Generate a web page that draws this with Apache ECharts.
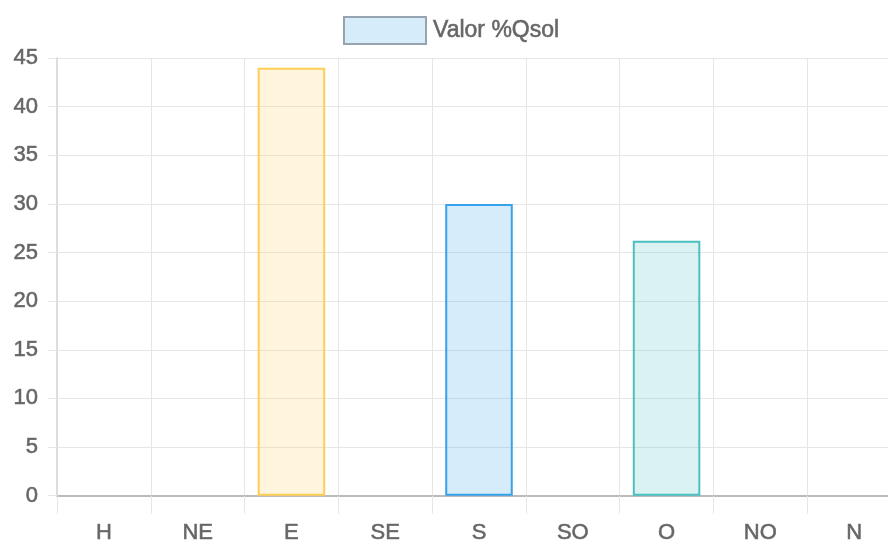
<!DOCTYPE html>
<html>
<head>
<meta charset="utf-8">
<script src="https://cdn.jsdelivr.net/npm/echarts@6/dist/echarts.min.js"></script>
<style>
  html, body { margin: 0; padding: 0; background: #fff; overflow: hidden; }
  #main { width: 901px; height: 544px; }
</style>
</head>
<body>
<div id="main"></div>
<script>
// datos del gráfico
var categorias = ['H', 'NE', 'E', 'SE', 'S', 'SO', 'O', 'NO', 'N'];
var valores = [0, 0, 44, 0, 30, 0, 26.2, 0, 0];
var nombreSerie = 'Valor %Qsol';

// estilos por barra
var rellenos = ['rgba(54,162,235,0.2)', 'rgba(54,162,235,0.2)', 'rgba(255,206,86,0.2)', 'rgba(54,162,235,0.2)',
    'rgba(54,162,235,0.2)', 'rgba(54,162,235,0.2)', 'rgba(75,192,192,0.2)', 'rgba(54,162,235,0.2)', 'rgba(54,162,235,0.2)'];
var bordes = ['#36a2eb', '#36a2eb', '#ffce56', '#36a2eb', '#36a2eb', '#36a2eb', '#4bc0c0', '#36a2eb', '#36a2eb'];

// las barras en cero no dibujan borde
var datos = valores.map(function (v, i) {
    return { value: v, itemStyle: { color: rellenos[i], borderColor: bordes[i], borderWidth: v ? 2 : 0 } };
});

var fuente = 'Liberation Sans, Helvetica Neue, Helvetica, Arial, sans-serif';
var texto = {
    fontSize: 22,
    color: '#666',
    fontFamily: fuente,
    textBorderColor: '#777',
    textBorderWidth: 0.6
};

var myChart = echarts.init(document.getElementById('main'));

var option = {
    animation: false,
    textStyle: { fontFamily: fuente },
    legend: {
        top: 11,
        left: 338,
        itemWidth: 82,
        itemHeight: 27,
        icon: 'rect',
        textStyle: Object.assign({}, texto, { fontSize: 23, padding: [0, 0, 0, 2] }),
        data: [{
            name: nombreSerie,
            itemStyle: { color: 'rgba(54,162,235,0.2)', borderColor: '#96a4b0', borderWidth: 2 }
        }]
    },
    grid: { left: 57, right: 0, top: 58, bottom: 47 },
    xAxis: {
        type: 'category',
        data: categorias,
        boundaryGap: true,
        axisLine: { lineStyle: { color: '#bbb', width: 2 } },
        axisTick: { show: true, length: 18, interval: 0, lineStyle: { color: '#e6e6e6' } },
        axisLabel: Object.assign({ margin: 26, interval: 0 }, texto),
        splitLine: { show: true, interval: 0, lineStyle: { color: '#e6e6e6' } }
    },
    yAxis: {
        type: 'value',
        min: 0,
        max: 45,
        interval: 5,
        axisLine: { show: true, lineStyle: { color: '#ddd', width: 2 } },
        axisTick: { show: true, length: 9, lineStyle: { color: '#e6e6e6' } },
        axisLabel: Object.assign({ margin: 19 }, texto),
        splitLine: { lineStyle: { color: '#e6e6e6' } }
    },
    series: [{
        name: nombreSerie,
        type: 'bar',
        barWidth: '72%',
        itemStyle: { color: 'rgba(54,162,235,0.2)', borderColor: '#96a4b0' },
        data: datos
    }]
};

myChart.setOption(option);
</script>
</body>
</html>
